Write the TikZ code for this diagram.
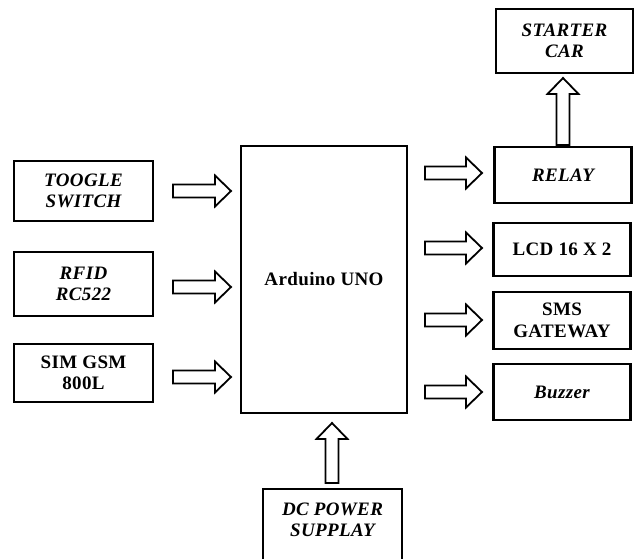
\documentclass[tikz,border=0pt]{standalone}
\usepackage{fontspec}
\setmainfont{Liberation Serif}[LetterSpace=2]
\begin{document}
\begin{tikzpicture}[x=1pt,y=-1pt,
  box/.style={draw, line width=2.4pt, align=center, inner sep=0pt,
    font=\fontsize{19}{21.5}\selectfont\bfseries},
  itbox/.style={box, font=\fontsize{19}{21.5}\selectfont\bfseries\itshape},
  blk/.style={draw, line width=1.8pt, fill=white, line join=miter}]
\newcommand\blockarr[3]{%
  \begin{scope}[shift={#1}, rotate=#2]
  \draw[blk] (0,-6.5) -- (#3-16,-6.5) -- (#3-16,-15.5) -- (#3,0) -- (#3-16,15.5) -- (#3-16,6.5) -- (0,6.5) -- cycle;
  \end{scope}}
\useasboundingbox (0,0) rectangle (637,559);
\clip (0,0) rectangle (637,559);
% left column
\node[itbox, minimum width=139pt, minimum height=60pt] (tog) at (83.5,191) {TOOGLE\\SWITCH};
\node[itbox, minimum width=139pt, minimum height=64pt] (rfid) at (83.5,284) {RFID\\RC522};
\node[box, minimum width=139pt, minimum height=58pt] (sim) at (83.5,373) {SIM GSM\\800L};
% central
\node[box, minimum width=166pt, minimum height=267pt] (ard) at (324,279.5) {Arduino UNO};
% right column
\node[itbox, minimum width=137pt, minimum height=64pt] (start) at (564.5,41) {STARTER\\CAR};
\node[itbox, minimum width=137pt, minimum height=56pt] (relay) at (563,175) {RELAY};
\node[box, minimum width=137pt, minimum height=53pt] (lcd) at (562,249.5) {LCD 16 X 2};
\node[box, minimum width=137pt, minimum height=57pt] (sms) at (562,320.5) {SMS\\GATEWAY};
\node[itbox, minimum width=137pt, minimum height=56pt] (buz) at (562,392) {Buzzer};
% power
\node[itbox, minimum width=139pt, minimum height=90pt] (dc) at (332.5,534) {};
\node[font=\fontsize{19}{21.5}\selectfont\bfseries\itshape, align=center] (dct) at (332.5,520) {DC POWER\\SUPPLAY};
% arrows
\blockarr{(173,191)}{0}{58}
\blockarr{(173,287)}{0}{58}
\blockarr{(173,377)}{0}{58}
\blockarr{(425,173)}{0}{57}
\blockarr{(425,248)}{0}{57}
\blockarr{(425,320)}{0}{57}
\blockarr{(425,392)}{0}{57}
\blockarr{(563,145)}{90}{67}
\blockarr{(332,483)}{90}{60}
\end{tikzpicture}
\end{document}
